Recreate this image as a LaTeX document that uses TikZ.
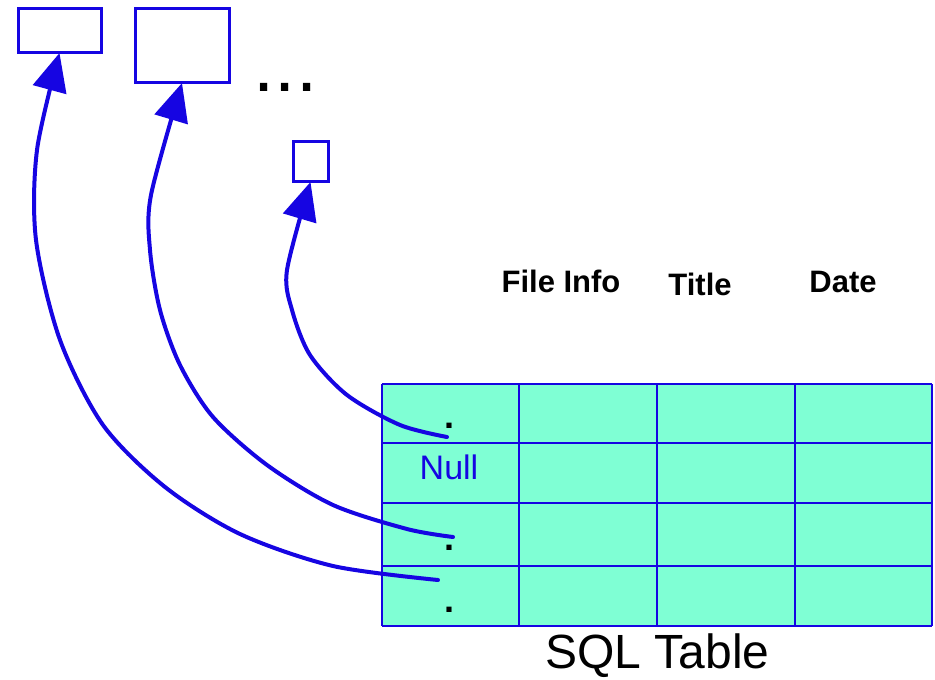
\documentclass[tikz,border=0pt]{standalone}
\usepackage{fontspec}
\setmainfont{Liberation Sans}
\usetikzlibrary{arrows.meta}
\definecolor{linkblue}{RGB}{22,5,226}
\definecolor{cellgreen}{RGB}{127,255,212}
\tikzset{
	recbox/.style={draw=linkblue, line width=1.5pt, inner sep=0pt, outer sep=0pt},
	link/.style={draw=linkblue, line width=2pt, line cap=round, -{Triangle[length=19pt,width=17pt]}},
	grid/.style={draw=linkblue, line width=1pt},
	head/.style={anchor=base, font=\fontsize{15.5}{18}\selectfont\bfseries},
	rowdot/.style={anchor=base, font=\fontsize{18}{20}\selectfont\bfseries}
}
\begin{document}
\begin{tikzpicture}[x=0.5pt, y=-0.5pt]
		%%%%% START %%%%%
		\useasboundingbox (0,0) rectangle (935,679);
		
		\node[recbox, minimum width=41.5pt, minimum height=22pt] (box1) at (59.5,31) {};
		\node[recbox, minimum width=47pt, minimum height=37pt] (box2) at (182,46) {};
		\node[recbox, minimum width=17.5pt, minimum height=20pt] (box3) at (310.5,162) {};
		\node[anchor=base, font=\fontsize{38}{40}\selectfont] (more) at (285.5,92) {...};
		
		\fill[cellgreen] (382,384) rectangle (932,626);
		\foreach \y in {384,443,503,566,626}
			\draw[grid] (382,\y) -- (932,\y);
		\foreach \x in {382,519,657,795,932}
			\draw[grid] (\x,384) -- (\x,626);
		
		\node[head] (info) at (561,292) {File Info};
		\node[head] (title) at (700,295) {Title};
		\node[head] (date) at (843,292) {Date};
		
		\node[rowdot] (dot1) at (449,428) {.};
		\node[anchor=base, text=linkblue, font=\fontsize{17}{20}\selectfont] (null) at (449,479) {Null};
		\node[rowdot] (dot2) at (449,550) {.};
		\node[rowdot] (dot3) at (449,612) {.};
		\node[anchor=base, inner sep=0pt, font=\fontsize{24}{28}\selectfont] (caption) at (657.5,668) {SQL Table};
		
		\coordinate (r1) at (447,437);
		\coordinate (r3) at (453,537);
		\coordinate (r4) at (438,580);
		
		\draw[link] plot[smooth] coordinates {(r4) (333,566) (240,534) (165,487) (103,425) (60,340) (36,240) (37,150) (box1.south)};
		\draw[link] plot[smooth] coordinates {(r3) (407,529) (333,505) (267,465) (213,417) (180,365) (160,310) (150,250) (151,195) (box2.south)};
		\draw[link] plot[smooth] coordinates {(r1) (400,425) (347,395) (310,355) (292,310) (287,270) (box3.south)};
		
		%%%%% END %%%%%
	\end{tikzpicture}
\end{document}
